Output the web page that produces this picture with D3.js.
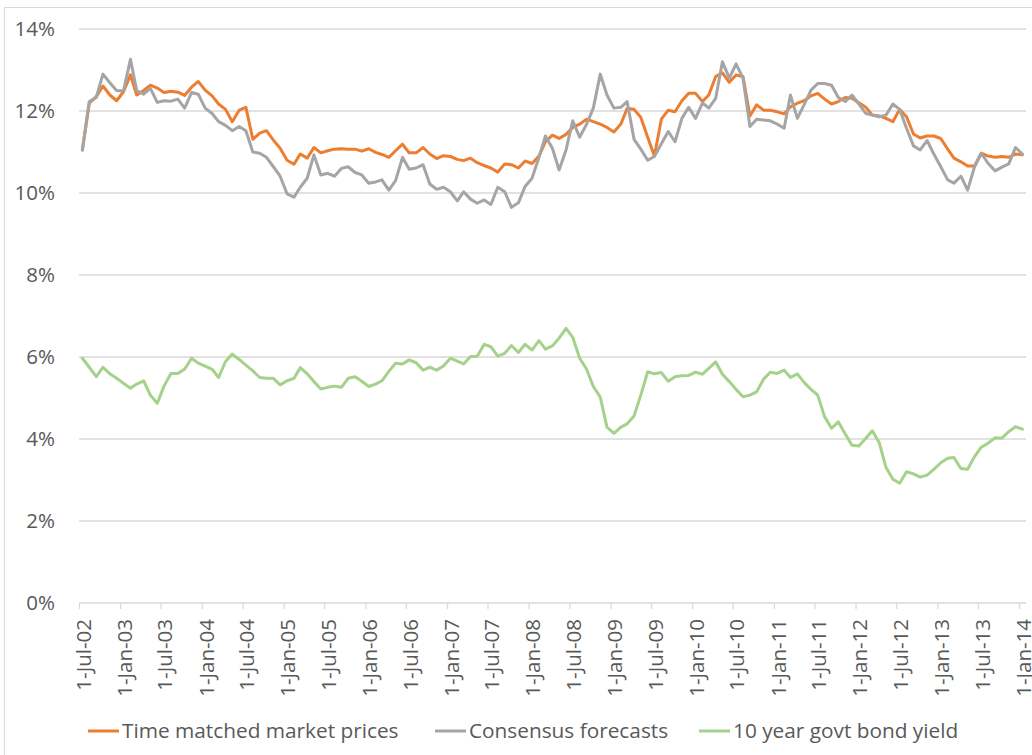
<!DOCTYPE html>
<html>
<head>
<meta charset="utf-8">
<script src="https://cdn.jsdelivr.net/npm/d3@7"></script>
<style>
    body { margin: 0; background: #fff; }
    svg { display: block; font-family: "Open Sans", sans-serif; }
</style>
</head>
<body>
<svg></svg>
<script>
const width = 1032;
const height = 755;
const plotLeft = 79;
const plotRight = 1026;
const plotTop = 29;
const plotBottom = 603;

// monthly observations, Jul-2002 .. Jan-2014
const months = d3.timeMonth.range(new Date(2002, 6, 1), new Date(2014, 1, 1));

const marketPrices = [
    11.05, 12.19, 12.35, 12.61, 12.39, 12.25, 12.47, 12.88, 12.39, 12.50, 12.63, 12.56,
    12.45, 12.48, 12.46, 12.38, 12.58, 12.72, 12.51, 12.37, 12.17, 12.04, 11.74, 12.02,
    12.09, 11.31, 11.46, 11.52, 11.29, 11.09, 10.80, 10.70, 10.95, 10.85, 11.11, 10.98,
    11.03, 11.07, 11.08, 11.07, 11.07, 11.02, 11.08, 10.99, 10.94, 10.87, 11.03, 11.19,
    10.98, 10.98, 11.11, 10.95, 10.84, 10.91, 10.89, 10.82, 10.79, 10.85, 10.74, 10.67,
    10.61, 10.51, 10.71, 10.69, 10.61, 10.78, 10.72, 10.90, 11.25, 11.41, 11.33, 11.43,
    11.60, 11.68, 11.80, 11.74, 11.68, 11.60, 11.49, 11.68, 12.06, 12.04, 11.85, 11.36,
    10.90, 11.80, 12.02, 11.98, 12.25, 12.43, 12.43, 12.23, 12.39, 12.84, 12.93, 12.70,
    12.88, 12.84, 11.88, 12.15, 12.02, 12.02, 11.98, 11.93, 12.10, 12.19, 12.25, 12.37,
    12.43, 12.29, 12.17, 12.23, 12.33, 12.31, 12.20, 12.09, 11.90, 11.88, 11.82, 11.74,
    12.04, 11.86, 11.44, 11.34, 11.39, 11.39, 11.33, 11.07, 10.85, 10.76, 10.66, 10.66,
    10.97, 10.90, 10.87, 10.89, 10.87, 10.95, 10.93
];

const consensus = [
    11.05, 12.23, 12.33, 12.90, 12.69, 12.50, 12.49, 13.26, 12.50, 12.41, 12.55, 12.21,
    12.25, 12.24, 12.29, 12.07, 12.45, 12.41, 12.07, 11.94, 11.74, 11.65, 11.52, 11.62,
    11.52, 11.00, 10.97, 10.87, 10.64, 10.41, 9.98, 9.90, 10.14, 10.36, 10.93, 10.44,
    10.48, 10.41, 10.60, 10.64, 10.50, 10.44, 10.24, 10.27, 10.32, 10.07, 10.30, 10.87,
    10.58, 10.61, 10.69, 10.22, 10.09, 10.14, 10.03, 9.81, 10.03, 9.85, 9.75, 9.83,
    9.72, 10.14, 10.03, 9.65, 9.76, 10.16, 10.36, 10.87, 11.39, 11.09, 10.56, 11.05,
    11.76, 11.36, 11.68, 12.07, 12.90, 12.39, 12.07, 12.09, 12.23, 11.31, 11.07, 10.80,
    10.89, 11.20, 11.50, 11.25, 11.82, 12.09, 11.82, 12.20, 12.07, 12.31, 13.20, 12.80,
    13.15, 12.80, 11.62, 11.80, 11.78, 11.76, 11.68, 11.58, 12.39, 11.82, 12.15, 12.51,
    12.67, 12.67, 12.63, 12.33, 12.23, 12.39, 12.17, 11.94, 11.90, 11.86, 11.90, 12.17,
    12.04, 11.58, 11.15, 11.05, 11.28, 10.95, 10.64, 10.32, 10.24, 10.41, 10.07, 10.64,
    10.97, 10.72, 10.54, 10.63, 10.71, 11.11, 10.95
];

const bondYield = [
    5.97, 5.75, 5.52, 5.75, 5.59, 5.48, 5.36, 5.24, 5.34, 5.42, 5.07, 4.87,
    5.29, 5.60, 5.60, 5.70, 5.97, 5.85, 5.78, 5.70, 5.50, 5.89, 6.07, 5.94,
    5.80, 5.66, 5.50, 5.48, 5.48, 5.32, 5.42, 5.48, 5.74, 5.59, 5.40, 5.22,
    5.26, 5.29, 5.26, 5.48, 5.52, 5.41, 5.28, 5.34, 5.42, 5.65, 5.85, 5.83,
    5.93, 5.86, 5.68, 5.75, 5.68, 5.78, 5.97, 5.90, 5.83, 6.01, 6.02, 6.31,
    6.25, 6.02, 6.09, 6.28, 6.11, 6.31, 6.17, 6.40, 6.19, 6.27, 6.46, 6.70,
    6.48, 5.97, 5.70, 5.28, 5.02, 4.29, 4.14, 4.29, 4.37, 4.56, 5.07, 5.64,
    5.59, 5.62, 5.41, 5.52, 5.54, 5.55, 5.63, 5.58, 5.72, 5.88, 5.58, 5.40,
    5.21, 5.03, 5.07, 5.15, 5.46, 5.63, 5.60, 5.68, 5.50, 5.59, 5.38, 5.21,
    5.07, 4.54, 4.26, 4.42, 4.12, 3.85, 3.83, 4.02, 4.20, 3.91, 3.31, 3.02,
    2.92, 3.20, 3.15, 3.07, 3.12, 3.26, 3.42, 3.53, 3.55, 3.28, 3.26, 3.57,
    3.80, 3.90, 4.03, 4.02, 4.18, 4.30, 4.24
];

const yTicks = [0, 2, 4, 6, 8, 10, 12, 14];
const xTicks = d3.timeMonth.every(6).range(new Date(2002, 6, 1), new Date(2014, 0, 2));

const seriesNames = ["Time matched market prices", "Consensus forecasts", "10 year govt bond yield"];
const seriesColors = ["#ed7d31", "#a5a5a5", "#a5d28a"];

let svg = d3.select("svg")
    .attr("width", width)
    .attr("height", height);

// chart area border
svg.append("rect")
    .attr("x", 4.5)
    .attr("y", 7.5)
    .attr("width", width + 20)
    .attr("height", height + 20)
    .attr("fill", "none")
    .attr("stroke", "#d9d9d9");

let scaleX = d3.scaleTime()
    .domain([new Date(2002, 6, 1), new Date(2014, 1, 1)])
    .range([plotLeft, plotRight]);

let scaleY = d3.scaleLinear()
    .domain([0, 14])
    .range([plotBottom, plotTop]);

// horizontal grid lines
svg.append("g")
    .selectAll("line")
    .data(yTicks)
    .enter()
    .append("line")
    .attr("x1", plotLeft)
    .attr("x2", plotRight)
    .attr("y1", d => scaleY(d))
    .attr("y2", d => scaleY(d))
    .attr("stroke", "#d9d9d9")
    .attr("stroke-width", 1.3);

// y labels
svg.append("g")
    .selectAll("text")
    .data(yTicks)
    .enter()
    .append("text")
    .attr("x", 55)
    .attr("y", d => scaleY(d))
    .attr("dy", "0.35em")
    .attr("text-anchor", "end")
    .attr("fill", "#595959")
    .style("font-size", "20.5px")
    .text(d => d + "%");

// x axis: tick marks and rotated labels
let axisX = d3.axisBottom(scaleX)
    .tickValues(xTicks)
    .tickSize(6)
    .tickFormat(d3.timeFormat("%-d-%b-%y"));

let gx = svg.append("g")
    .attr("transform", `translate(0, ${plotBottom})`)
    .call(axisX);

gx.select(".domain").remove();
gx.selectAll(".tick line")
    .attr("stroke", "#d9d9d9")
    .attr("stroke-width", 1.3);
gx.selectAll(".tick text")
    .attr("fill", "#595959")
    .style("font-size", "20.5px")
    .style("font-family", "'Open Sans', sans-serif")
    .attr("text-anchor", "end")
    .attr("x", -16)
    .attr("y", 4)
    .attr("dy", "0.35em")
    .attr("transform", "rotate(-90)");

// lines, points sit in the middle of each month
let midMonth = d => d3.timeDay.offset(d, 15);

[marketPrices, consensus, bondYield].forEach((values, k) => {
    let line = d3.line()
        .x((d, i) => scaleX(midMonth(months[i])))
        .y(d => scaleY(d));

    svg.append("path")
        .datum(values)
        .attr("d", line)
        .attr("fill", "none")
        .attr("stroke", seriesColors[k])
        .attr("stroke-width", 3)
        .attr("stroke-linejoin", "round")
        .attr("stroke-linecap", "round");
});

// legend
const legendX = [88, 435, 699];
let legend = svg.append("g")
    .selectAll("g")
    .data(seriesNames)
    .enter()
    .append("g")
    .attr("transform", (d, i) => `translate(${legendX[i]}, 731)`);

legend.append("line")
    .attr("x1", 0)
    .attr("x2", 31)
    .attr("stroke", (d, i) => seriesColors[i])
    .attr("stroke-width", 3);

legend.append("text")
    .attr("x", 34)
    .attr("dy", "0.35em")
    .attr("fill", "#595959")
    .style("font-size", "20.8px")
    .text(d => d);
</script>
</body>
</html>
